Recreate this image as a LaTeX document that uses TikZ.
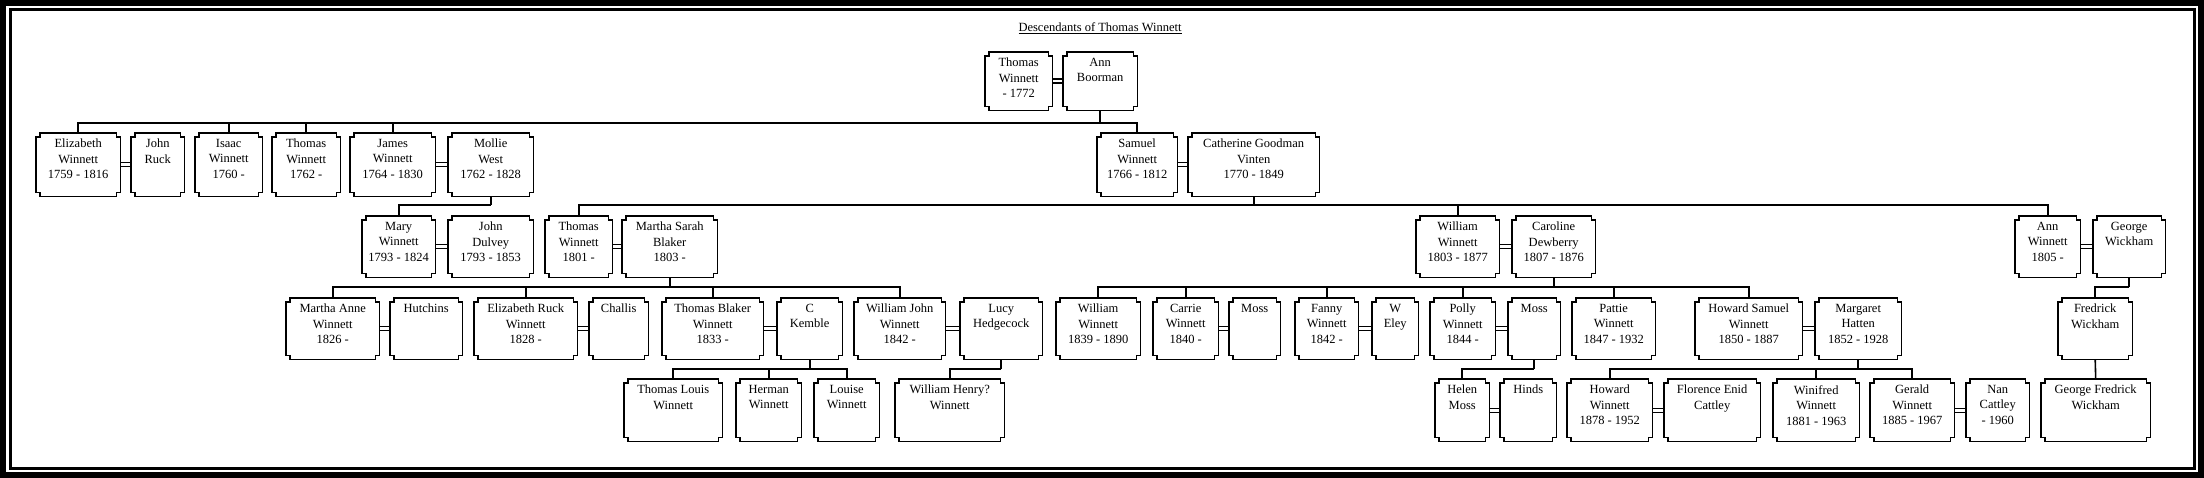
\documentclass[tikz,border=0pt]{standalone}
\usepackage{fontspec}
\setmainfont{Liberation Serif}
\begin{document}
\begin{tikzpicture}[x=1pt,y=-1pt,
  ln/.style={line width=1.6pt},
  mar/.style={line width=1.4pt},
  pb/.style={inner sep=0pt, anchor=north west},
  txt/.style={anchor=north, inner sep=0pt, align=center, font=\fontsize{12.5}{15.5}\selectfont}]
\fill[black] (0,0) rectangle (2204,478);
\fill[white] (6,6) rectangle (2198,472);
\draw[line width=3pt] (10,10) rectangle (2194,468);
\node[txt] (title) at (1100,23) {\underline{Descendants of Thomas Winnett}};
\newcommand\pbx[6]{%
  \node[pb, minimum width={(#3-#2)*1pt}, minimum height={(#5-#4)*1pt}] (#1) at (#2,#4) {};
  \draw[line width=1.6pt] ([xshift=4pt]#1.north west) -- ([xshift=-4pt]#1.north east) -- ++(0pt,-4pt) -- ++(4pt,0pt)
    -- ([yshift=4pt]#1.south east) -- ++(-4pt,0pt) -- ++(0pt,-4pt) -- ([xshift=4pt]#1.south west) -- ++(0pt,4pt) -- ++(-4pt,0pt)
    -- ([yshift=-4pt]#1.north west) -- ++(4pt,0pt) -- cycle;
  \node[txt] (#1t) at ([yshift=-6pt]#1.north) {#6};}
\newcommand\rwa[4]{\pbx{#1}{#2}{#3}{52}{110}{#4}}
\newcommand\rwb[4]{\pbx{#1}{#2}{#3}{133}{196}{#4}}
\newcommand\rwc[4]{\pbx{#1}{#2}{#3}{216}{277}{#4}}
\newcommand\rwd[4]{\pbx{#1}{#2}{#3}{298}{359}{#4}}
\newcommand\rwe[4]{\pbx{#1}{#2}{#3}{379}{441}{#4}}
\rwa{tw}{985}{1052}{Thomas\\Winnett\\- 1772}
\rwa{ab}{1063}{1137}{Ann\\Boorman}
\rwb{ew}{36}{120}{Elizabeth\\Winnett\\1759 - 1816}
\rwb{jr}{131}{184}{John\\Ruck}
\rwb{iw}{195}{262}{Isaac\\Winnett\\1760 -}
\rwb{twb}{272}{340}{Thomas\\Winnett\\1762 -}
\rwb{jw}{350}{435}{James\\Winnett\\1764 - 1830}
\rwb{mw}{448}{533}{Mollie\\West\\1762 - 1828}
\rwb{sw}{1097}{1177}{Samuel\\Winnett\\1766 - 1812}
\rwb{cg}{1188}{1319}{Catherine Goodman\\Vinten\\1770 - 1849}
\rwc{mary}{362}{435}{Mary\\Winnett\\1793 - 1824}
\rwc{jd}{448}{533}{John\\Dulvey\\1793 - 1853}
\rwc{twc}{545}{612}{Thomas\\Winnett\\1801 -}
\rwc{ms}{622}{717}{Martha Sarah\\Blaker\\1803 -}
\rwc{wwc}{1416}{1499}{William\\Winnett\\1803 - 1877}
\rwc{cd}{1512}{1595}{Caroline\\Dewberry\\1807 - 1876}
\rwc{aw}{2015}{2080}{Ann\\Winnett\\1805 -}
\rwc{gw}{2093}{2165}{George\\Wickham}
\rwd{maw}{286}{379}{Martha Anne\\Winnett\\1826 -}
\rwd{hu}{390}{462}{Hutchins}
\rwd{erw}{474}{577}{Elizabeth Ruck\\Winnett\\1828 -}
\rwd{ch}{589}{648}{Challis}
\rwd{tbw}{662}{763}{Thomas Blaker\\Winnett\\1833 -}
\rwd{ck}{777}{842}{C\\Kemble}
\rwd{wjw}{854}{945}{William John\\Winnett\\1842 -}
\rwd{lh}{960}{1042}{Lucy\\Hedgecock}
\rwd{wwd}{1056}{1140}{William\\Winnett\\1839 - 1890}
\rwd{cw}{1153}{1218}{Carrie\\Winnett\\1840 -}
\rwd{mo}{1229}{1280}{Moss}
\rwd{fw}{1295}{1358}{Fanny\\Winnett\\1842 -}
\rwd{we}{1372}{1418}{W\\Eley}
\rwd{pw}{1430}{1495}{Polly\\Winnett\\1844 -}
\rwd{mob}{1508}{1560}{Moss}
\rwd{paw}{1572}{1655}{Pattie\\Winnett\\1847 - 1932}
\rwd{hsw}{1695}{1802}{Howard Samuel\\Winnett\\1850 - 1887}
\rwd{mh}{1815}{1901}{Margaret\\Hatten\\1852 - 1928}
\rwd{fwk}{2058}{2132}{Fredrick\\Wickham}
\rwe{tlw}{624}{722}{Thomas Louis\\Winnett}
\rwe{hw}{736}{801}{Herman\\Winnett}
\rwe{lw}{814}{879}{Louise\\Winnett}
\rwe{whw}{895}{1004}{William Henry?\\Winnett}
\rwe{hm}{1435}{1489}{Helen\\Moss}
\rwe{hi}{1500}{1556}{Hinds}
\rwe{hwe}{1567}{1652}{Howard\\Winnett\\1878 - 1952}
\rwe{fec}{1664}{1760}{Florence Enid\\Cattley}
\rwe{wiw}{1773}{1859}{Winifred\\Winnett\\1881 - 1963}
\rwe{gwi}{1870}{1954}{Gerald\\Winnett\\1885 - 1967}
\rwe{nc}{1966}{2029}{Nan\\Cattley\\- 1960}
\rwe{gfw}{2041}{2150}{George Fredrick\\Wickham}
\foreach \a/\b in {tw/ab,ew/jr,jw/mw,sw/cg,mary/jd,twc/ms,wwc/cd,aw/gw,maw/hu,erw/ch,tbw/ck,wjw/lh,cw/mo,fw/we,pw/mob,hsw/mh,hm/hi,hwe/fec,gwi/nc}{
  \draw[mar] ([yshift=2pt]\a.east) -- ([yshift=2pt]\b.west);
  \draw[mar] ([yshift=-2pt]\a.east) -- ([yshift=-2pt]\b.west);}
\newcommand\famline[3]{%
  \coordinate (bar#1) at (0,#2);
  \draw[ln] (#1.south) -- (#1.south |- bar#1);
  \foreach \c in {#3} \draw[ln] (#1.south |- bar#1) -| (\c.north);}
\famline{ab}{123}{ew,iw,twb,jw,sw}
\famline{mw}{205}{mary}
\famline{cg}{205}{twc,wwc,aw}
\famline{ms}{287}{maw,erw,tbw,wjw}
\famline{cd}{287}{wwd,cw,fw,pw,paw,hsw}
\famline{gw}{287}{fwk}
\famline{ck}{369}{tlw,hw,lw}
\famline{lh}{369}{whw}
\famline{mob}{369}{hm}
\famline{mh}{369}{hwe,wiw,gwi}
\draw[ln] (fwk.south) -- (gfw.north);
\end{tikzpicture}
\end{document}
